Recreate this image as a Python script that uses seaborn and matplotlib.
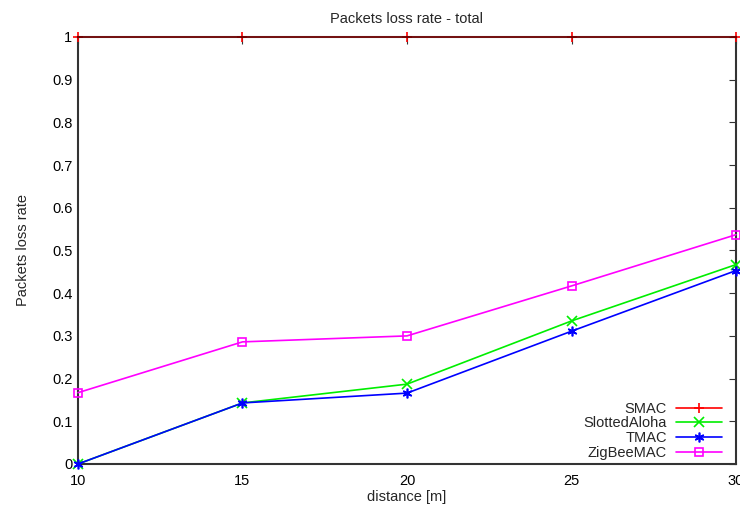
import matplotlib
matplotlib.use("Agg")
import matplotlib.pyplot as plt
import seaborn as sns
import pandas as pd

distance = [10, 15, 20, 25, 30]
smac = [1.0, 1.0, 1.0, 1.0, 1.0]
slotted_aloha = [0.0, 0.143, 0.187, 0.335, 0.467]
tmac = [0.0, 0.143, 0.166, 0.311, 0.453]
zigbee = [0.167, 0.286, 0.300, 0.417, 0.537]
series_names = ["SMAC", "SlottedAloha", "TMAC", "ZigBeeMAC"]
y_ticks = [0, 0.1, 0.2, 0.3, 0.4, 0.5, 0.6, 0.7, 0.8, 0.9, 1]
y_tick_labels = ["0", "0.1", "0.2", "0.3", "0.4", "0.5", "0.6", "0.7", "0.8", "0.9", "1"]

rows = []
for name, vals in zip(series_names, [smac, slotted_aloha, tmac, zigbee]):
    for d, v in zip(distance, vals):
        rows.append({"distance": d, "value": v, "series": name})
df = pd.DataFrame(rows)

sns.set_style("white")
plt.rcParams['font.family'] = ['Liberation Sans', 'DejaVu Sans']

fig = plt.figure(figsize=(7.4, 5.11), dpi=100)
ax = fig.add_axes([0.1054, 0.092, 0.8892, 0.8356])

palette = {"SMAC": "#ff0000", "SlottedAloha": "#00ee00", "TMAC": "#0000ff", "ZigBeeMAC": "#ff00ff"}
markers = {"SMAC": "+", "SlottedAloha": "x", "TMAC": (6, 2, 0), "ZigBeeMAC": "s"}

for name in series_names:
    sub = df[df.series == name]
    mk = markers[name]
    kw = dict(marker=mk, markersize=7, markeredgewidth=1.2, markeredgecolor=palette[name])
    if name == "ZigBeeMAC":
        kw.update(markerfacecolor="none", markersize=6)
    sns.lineplot(data=sub, x="distance", y="value", ax=ax, color=palette[name],
                 label=name, linewidth=1.2, clip_on=False, zorder=3, **kw)

ax.set_xlim(10, 30)
ax.set_ylim(0, 1)
ax.set_xticks(distance)
ax.set_xticklabels([str(d) for d in distance])
ax.set_yticks(y_ticks)
ax.set_yticklabels(y_tick_labels)
ax.tick_params(direction="in", length=5, width=0.8, colors="#333333", labelcolor="black",
               labelsize=10.5, top=True, right=True, pad=4)
ax.tick_params(axis="x", pad=7)
for s in ax.spines.values():
    s.set_color("#333333")
    s.set_linewidth(1.5)
    s.set_zorder(2)
ax.spines["top"].set_zorder(4)
ax.spines["top"].set_alpha(0.55)
ax.spines["top"].set_color("#000000")

ax.set_title("Packets loss rate - total", fontsize=10.5, pad=10)
ax.set_xlabel("distance [m]", fontsize=10.5, labelpad=2)
ax.set_ylabel("Packets loss rate", fontsize=10.5, labelpad=16)

leg = ax.legend(loc="lower right", bbox_to_anchor=(0.988, -0.004), frameon=False,
                markerfirst=False, fontsize=10.5, handlelength=3.2, labelspacing=0.05,
                borderaxespad=0.0, handletextpad=0.6)

fig.savefig("out.png", dpi=100)
